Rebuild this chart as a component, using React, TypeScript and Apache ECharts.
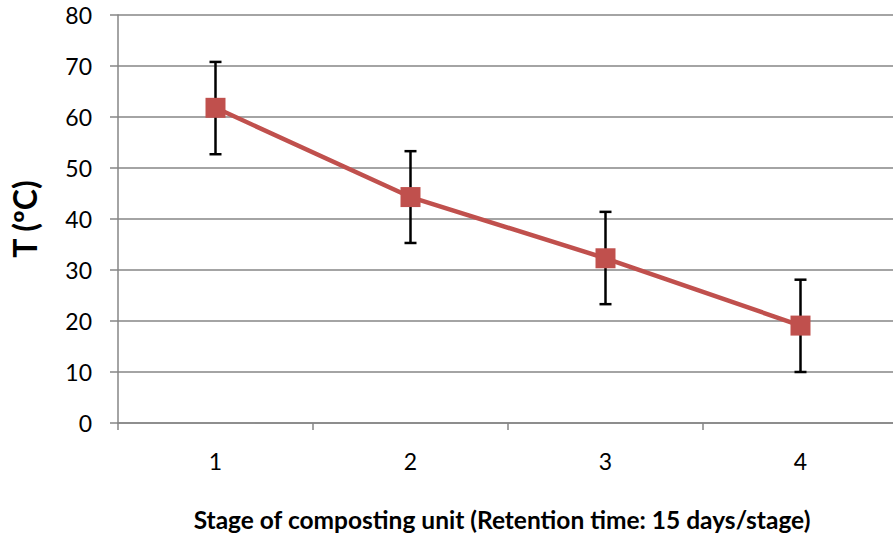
import React, { useEffect, useRef } from "react";
import * as echarts from "echarts";

const categories = ["1", "2", "3", "4"];
const meanTemp = [61.8, 44.3, 32.3, 19.1];
const errLow = [52.7, 35.3, 23.3, 10.0];
const errHigh = [70.8, 53.3, 41.4, 28.1];
const yTitle = "T (ºC)";
const xTitle = "Stage of composting unit (Retention time: 15 days/stage)";

const FONT = "Lato, 'Open Sans', sans-serif";
const GRAY = "#868686";
const RED = "#C0504D";

export default function App() {
  const ref = useRef<HTMLDivElement>(null);
  useEffect(() => {
    if (!ref.current) return;
    const chart = echarts.init(ref.current, undefined, { renderer: "svg" });
    const errData = categories.map((_, i) => [i, errLow[i], errHigh[i]]);
    chart.setOption({
      animation: false,
      backgroundColor: "#ffffff",
      textStyle: { fontFamily: FONT },
      grid: {
        left: 118,
        top: 15,
        width: 780,
        height: 408,
        containLabel: false,
        outerBoundsMode: "none",
      },
      xAxis: {
        type: "category",
        data: categories,
        boundaryGap: true,
        axisLine: { show: true, lineStyle: { color: GRAY, width: 1.5 } },
        axisTick: { show: true, length: 7, lineStyle: { color: GRAY, width: 1.5 } },
        axisLabel: { color: "#000", fontSize: 23, fontFamily: FONT, margin: 26 },
        splitLine: { show: false },
      },
      yAxis: {
        type: "value",
        min: 0,
        max: 80,
        interval: 10,
        axisLine: { show: true, lineStyle: { color: GRAY, width: 1.5 } },
        axisTick: { show: true, length: 8, lineStyle: { color: GRAY, width: 1.5 } },
        axisLabel: { color: "#000", fontSize: 23, fontFamily: FONT, margin: 26 },
        splitLine: { show: true, lineStyle: { color: GRAY, width: 1.5 } },
      },
      graphic: [
        {
          type: "text",
          x: 24,
          y: 219,
          rotation: Math.PI / 2,
          style: {
            text: yTitle,
            fontSize: 32,
            fontWeight: "bold",
            fontFamily: FONT,
            fill: "#000",
            align: "center",
            verticalAlign: "middle",
          },
        },
        {
          type: "text",
          x: 502,
          y: 519,
          style: {
            text: xTitle,
            fontSize: 24.5,
            fontWeight: "bold",
            fontFamily: FONT,
            fill: "#000",
            align: "center",
            verticalAlign: "middle",
          },
        },
      ],
      series: [
        {
          type: "custom",
          z: 2,
          data: errData,
          renderItem: (params: any, api: any) => {
            const x = api.value(0);
            const lo = api.coord([x, api.value(1)]);
            const hi = api.coord([x, api.value(2)]);
            const w = 6;
            const style = { stroke: "#000", lineWidth: 2.5 };
            return {
              type: "group",
              children: [
                { type: "line", shape: { x1: hi[0], y1: hi[1], x2: lo[0], y2: lo[1] }, style },
                { type: "line", shape: { x1: hi[0] - w, y1: hi[1], x2: hi[0] + w, y2: hi[1] }, style },
                { type: "line", shape: { x1: lo[0] - w, y1: lo[1], x2: lo[0] + w, y2: lo[1] }, style },
              ],
            };
          },
        },
        {
          type: "line",
          z: 3,
          data: meanTemp,
          symbol: "rect",
          symbolSize: 20,
          itemStyle: { color: RED },
          lineStyle: { color: RED, width: 4.5 },
        },
      ],
    });
    return () => chart.dispose();
  }, []);
  return (
    <div
      ref={ref}
      style={{ position: "absolute", left: 0, top: 0, width: 893, height: 534 }}
    />
  );
}
